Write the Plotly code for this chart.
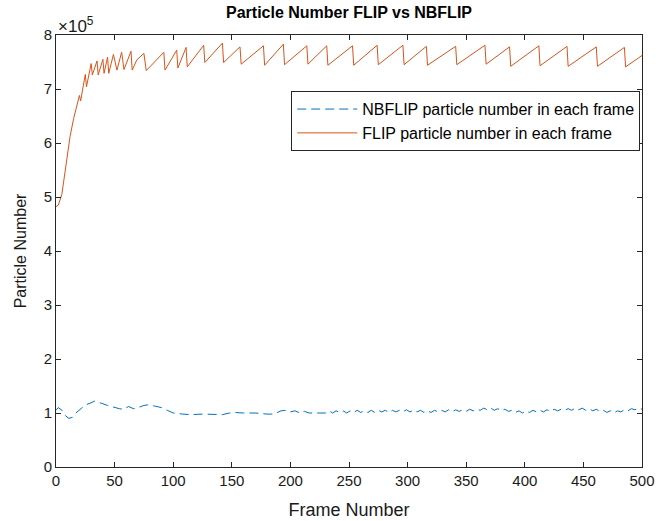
import plotly.graph_objects as go

# FLIP particle number (x 1e5) at breakpoints
flip_frames = [0, 2, 5, 9, 12, 15, 19, 20, 21, 23, 25, 26, 30, 31, 35, 36, 40, 41, 44, 45,
               49, 52, 56, 58, 64, 65, 69, 75, 77, 92, 93, 103, 104, 111, 112, 126, 127,
               142, 143, 157, 158, 177, 178, 194, 195, 214, 215, 231, 232, 253, 254, 274,
               275, 296, 297, 316, 317, 341, 342, 366, 367, 387, 388, 412, 413, 436, 437,
               461, 462, 485, 486, 500]
flip_values = [4.82, 4.85, 5.05, 5.69, 6.12, 6.45, 6.80, 6.88, 6.78, 7.04, 7.27, 7.04, 7.47,
               7.26, 7.52, 7.26, 7.55, 7.29, 7.59, 7.29, 7.64, 7.35, 7.68, 7.36, 7.70, 7.35,
               7.54, 7.66, 7.34, 7.68, 7.35, 7.72, 7.39, 7.77, 7.41, 7.81, 7.49, 7.85, 7.49,
               7.78, 7.46, 7.80, 7.44, 7.83, 7.45, 7.80, 7.46, 7.80, 7.44, 7.80, 7.44, 7.81,
               7.45, 7.81, 7.45, 7.79, 7.44, 7.79, 7.45, 7.81, 7.46, 7.78, 7.42, 7.80, 7.43,
               7.79, 7.42, 7.78, 7.42, 7.77, 7.41, 7.62]

# NBFLIP particle number (x 1e5)
nb_frames = [0, 2, 5, 8, 11, 14, 17, 21, 25, 29, 33, 35, 39, 44, 50, 54, 57, 60, 62, 66, 70,
             75, 78, 84, 90, 95, 100, 108, 115, 125, 135, 142, 148, 152, 160, 170, 180, 186,
             192, 196, 200, 204, 208, 212, 216, 222, 228,
             230, 233, 236, 239, 242, 245, 248, 251, 254, 257, 260, 263, 266, 269, 272, 275,
             278, 281, 284, 287, 290, 293, 296, 299, 302, 305, 308, 311, 314, 317, 320, 323,
             326, 329, 332, 335, 338, 341, 344, 347, 350, 353, 356, 359, 362, 365, 368, 371,
             374, 377, 380, 383, 386, 389, 392, 395, 398, 401, 404, 407, 410, 413, 416, 419,
             422, 425, 428, 431, 434, 437, 440, 443, 446, 449, 452, 455, 458, 461, 464, 467,
             470, 473, 476, 479, 482, 485, 488, 491, 494, 497, 500]
nb_values = [1.05, 1.10, 1.05, 0.95, 0.90, 0.92, 1.00, 1.08, 1.15, 1.18, 1.22, 1.20, 1.18,
             1.14, 1.10, 1.08, 1.07, 1.10, 1.12, 1.08, 1.10, 1.14, 1.15, 1.13, 1.10, 1.05,
             1.00, 0.98, 0.97, 0.98, 0.98, 0.97, 1.00, 1.01, 1.00, 1.00, 0.98, 0.98, 1.04,
             1.05, 1.02, 1.04, 1.00, 1.03, 1.00, 1.00, 1.00,
             1.00, 1.04, 1.00, 1.04, 1.01, 1.04, 1.00, 1.04, 1.01, 1.05, 1.01, 1.04, 1.01,
             1.05, 1.01, 1.05, 1.02, 1.05, 1.01, 1.05, 1.02, 1.05, 1.02, 1.06, 1.02, 1.05,
             1.02, 1.05, 1.01, 1.04, 1.01, 1.05, 1.02, 1.05, 1.02, 1.06, 1.02, 1.06, 1.03,
             1.06, 1.03, 1.07, 1.04, 1.07, 1.05, 1.09, 1.06, 1.09, 1.05, 1.08, 1.04, 1.07,
             1.03, 1.05, 1.01, 1.04, 1.00, 1.04, 1.01, 1.05, 1.02, 1.05, 1.02, 1.06, 1.03,
             1.07, 1.04, 1.07, 1.05, 1.08, 1.05, 1.09, 1.06, 1.09, 1.05, 1.08, 1.04, 1.07,
             1.03, 1.05, 1.01, 1.04, 1.00, 1.04, 1.02, 1.06, 1.04, 1.08, 1.06, 1.09, 1.07]

x_ticks = [0, 50, 100, 150, 200, 250, 300, 350, 400, 450, 500]
y_ticks = [0, 1, 2, 3, 4, 5, 6, 7, 8]

FONT = "Liberation Sans, Arial, sans-serif"
AX = "#262626"

fig = go.Figure()
fig.add_trace(go.Scatter(x=nb_frames, y=nb_values, mode="lines",
                         name="NBFLIP particle number in each frame",
                         line=dict(color="#0072BD", width=1, dash="9px,5px")))
fig.add_trace(go.Scatter(x=flip_frames, y=flip_values, mode="lines",
                         name="FLIP particle number in each frame",
                         line=dict(color="#D95319", width=1)))

axis_common = dict(showgrid=False, zeroline=False, showline=True, linecolor=AX,
                   linewidth=1, mirror="ticks", ticks="inside", ticklen=5,
                   tickcolor=AX, automargin=False,
                   tickfont=dict(family=FONT, size=15, color="#1a1a1a"))

fig.update_layout(
    width=658, height=521,
    margin=dict(l=56, r=16, t=35, b=54),
    plot_bgcolor="white", paper_bgcolor="white",
    title=dict(text="<b>Particle Number FLIP vs NBFLIP</b>", x=349 / 658, xanchor="center",
               y=1 - 12 / 521, yanchor="middle",
               font=dict(family=FONT, size=16, color="black")),
    xaxis=dict(range=[0, 500], tickvals=x_ticks,
               title=dict(text="Frame Number", font=dict(family=FONT, size=18, color="#1a1a1a"),
                          standoff=15),
               **axis_common),
    yaxis=dict(range=[0, 8], tickvals=y_ticks,
               title=dict(text="Particle Number", font=dict(family=FONT, size=16, color="#1a1a1a"),
                          standoff=13),
               **axis_common),
    legend=dict(x=0.997, xanchor="right", y=0.870, yanchor="top",
                bordercolor=AX, borderwidth=1, bgcolor="white",
                font=dict(family=FONT, size=16, color="black"),
                tracegroupgap=0, itemwidth=60),
    showlegend=True,
    annotations=[dict(text="×10<sup>5</sup>", xref="paper", yref="paper", x=0.0, y=1.0,
                      xanchor="left", yanchor="bottom", showarrow=False, yshift=-3,
                      font=dict(family=FONT, size=17, color="#1a1a1a"))],
)

fig.write_html("out.html", config={"displayModeBar": False},
               post_script="document.body.style.margin='0';")
